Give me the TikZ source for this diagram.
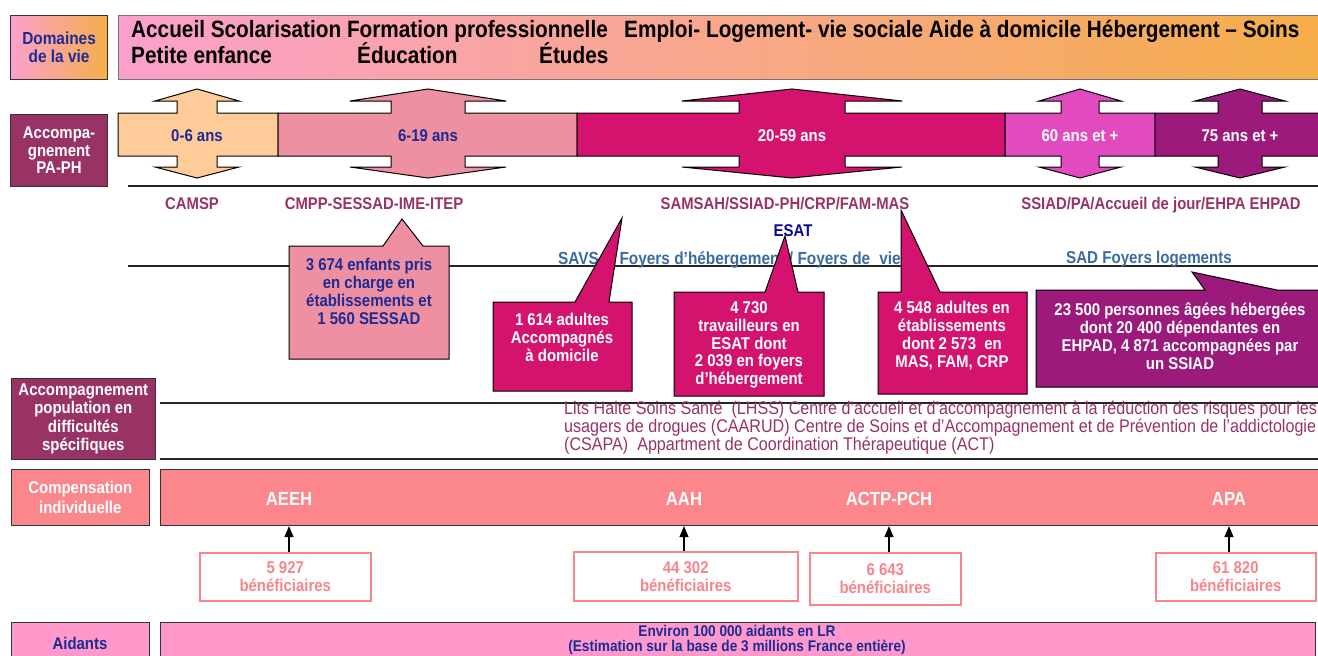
\documentclass[tikz,border=0pt]{standalone}
\usepackage{fontspec}
\newfontfamily\nar[FakeStretch=0.88]{Liberation Sans}
\usetikzlibrary{arrows.meta}
\definecolor{pinkT}{HTML}{FBA0CC}
\definecolor{orangeT}{HTML}{F5AE48}
\definecolor{plum}{HTML}{993366}
\definecolor{ageA}{HTML}{FFCC99}
\definecolor{ageB}{HTML}{EE8FA2}
\definecolor{ageC}{HTML}{D4136E}
\definecolor{ageD}{HTML}{E24BC0}
\definecolor{ageE}{HTML}{9B1A7B}
\definecolor{navy}{HTML}{1C2C94}
\definecolor{steel}{HTML}{3A6CA3}
\definecolor{salmon}{HTML}{FB868C}
\definecolor{salmonB}{HTML}{F7868C}
\definecolor{aidpink}{HTML}{FF99CC}
\definecolor{esatblue}{HTML}{0A0A96}
\newcommand\myfont[2]{\nar\bfseries\fontsize{#1}{#2}\selectfont}
\newcommand\myfontr[2]{\nar\fontsize{#1}{#2}\selectfont}
\newcommand\agebar[6]{%
 \filldraw[fill=#6,draw=black,line width=1pt,line join=miter]
 (#1,113) -- ({#3-#4},113) -- ({#3-#4},101) -- ({#3-#5},101) -- (#3,89) -- ({#3+#5},101) -- ({#3+#4},101) -- ({#3+#4},113)
 -- (#2,113) -- (#2,156) -- ({#3+#4},156) -- ({#3+#4},167) -- ({#3+#5},167) -- (#3,178) -- ({#3-#5},167) -- ({#3-#4},167)
 -- ({#3-#4},156) -- (#1,156) -- cycle;}
\begin{document}
\begin{tikzpicture}[x=1pt,y=-1pt,
  frame/.style={draw=black!80,line width=1.1pt,inner sep=0pt,anchor=north west},
  sep/.style={draw=black!85,line width=1.1pt},
  txt/.style={inner sep=0pt,align=center},
  lab/.style={inner sep=0pt,anchor=base},
  call/.style={draw=black,line width=1pt,line join=miter},
  arr/.style={-{Triangle[length=11pt,width=9pt]},line width=1.2pt},
  benef/.style={draw=salmonB,line width=1.5pt,fill=white,inner sep=0pt,anchor=north west,align=center,text=salmonB,font=\myfont{17}{18}}]
\useasboundingbox (0,0) rectangle (1318,656);
\fill[white] (0,0) rectangle (1318,656);

% ---- Domaines de la vie
\node[frame,draw=black!55,left color=pinkT,right color=orangeT,minimum width=1215pt,minimum height=64pt] (domain) at (118,15) {};
\node[frame,left color=pinkT,right color=orangeT,minimum width=97pt,minimum height=64pt] (domlab) at (10,15) {};
\node[txt,text=navy,font=\myfont{17.5}{18}] (domlabt) at (domlab.center) {Domaines\\de la vie};
\node[lab,anchor=base west,font=\myfont{23.6}{23}] (t1) at (131,37) {Accueil Scolarisation Formation professionnelle};
\node[lab,anchor=base west,font=\myfont{23.6}{23}] (t2) at (624,37) {Emploi- Logement- vie sociale Aide à domicile Hébergement – Soins};
\node[lab,anchor=base west,font=\myfont{23.6}{23}] (t3) at (131,63) {Petite enfance};
\node[lab,anchor=base west,font=\myfont{23.6}{23}] (t4) at (357,63) {Éducation};
\node[lab,anchor=base west,font=\myfont{23.6}{23}] (t5) at (539,63) {Études};

% ---- Accompagnement PA-PH
\node[frame,fill=plum,minimum width=97pt,minimum height=72pt] (paph) at (10,114) {};
\node[txt,text=white,font=\myfont{17}{17.5}] (papht) at (paph.center) {Accompa-\\gnement\\PA-PH};
\agebar{118}{278}{197}{20}{42}{ageA}
\agebar{278}{577}{428}{37}{78}{ageB}
\agebar{577}{1005}{792}{53}{110}{ageC}
\agebar{1005}{1155}{1080}{19}{41}{ageD}
\agebar{1155}{1325}{1240}{22}{45}{ageE}
\node[lab,text=navy,font=\myfont{17}{17}] (a1) at (197,141) {0-6 ans};
\node[lab,text=navy,font=\myfont{17}{17}] (a2) at (428,141) {6-19 ans};
\node[lab,text=white,font=\myfont{17}{17}] (a3) at (792,141) {20-59 ans};
\node[lab,text=white,font=\myfont{17}{17}] (a4) at (1080,141) {60 ans et +};
\node[lab,text=white,font=\myfont{17}{17}] (a5) at (1240,141) {75 ans et +};

\draw[sep] (128,186) -- (1325,186);
\draw[sep] (128,266) -- (1325,266);
\node[lab,text=plum,font=\myfont{16.9}{17}] (camsp) at (192,209) {CAMSP};
\node[lab,text=plum,font=\myfont{16.9}{17}] (cmpp) at (374,209) {CMPP-SESSAD-IME-ITEP};
\node[lab,text=plum,font=\myfont{16.9}{17}] (samsah) at (785,209) {SAMSAH/SSIAD-PH/CRP/FAM-MAS};
\node[lab,text=plum,font=\myfont{16.9}{17}] (ssiad) at (1161,209) {SSIAD/PA/Accueil de jour/EHPA EHPAD};
\node[lab,text=esatblue,font=\myfont{17}{17}] (esat) at (793,236) {ESAT};
\node[lab,anchor=base west,text=steel,font=\myfont{17.5}{17}] (savs) at (558,264) {SAVS\hspace{12pt}/ Foyers d’hébergement / Foyers de\hspace{9pt}vie};
\node[lab,text=steel,font=\myfont{17.2}{17}] (sad) at (1149,263) {SAD Foyers logements};

% ---- callouts
\filldraw[call,fill=ageB] (289,246) -- (383,246) -- (402,219) -- (423,246) -- (449,246) -- (449,359) -- (289,359) -- cycle;
\node[txt,text=navy,font=\myfont{17}{18}] (ca) at (369,291) {3 674 enfants pris\\en charge en\\établissements et\\1 560 SESSAD};
\filldraw[call,fill=ageC] (493,302) -- (575,302) -- (622,218) -- (609,302) -- (632,302) -- (632,391) -- (493,391) -- cycle;
\node[txt,text=white,font=\myfont{17}{18}] (cb) at (562,337) {1 614 adultes\\Accompagnés\\à domicile};
\filldraw[call,fill=ageC] (674,292) -- (765,292) -- (785,236) -- (798,292) -- (824,292) -- (824,396) -- (674,396) -- cycle;
\node[txt,text=white,font=\myfont{17}{17.8}] (cc) at (749,345) {4 730\\travailleurs en\\ESAT dont\\2 039 en foyers\\d’hébergement};
\filldraw[call,fill=ageC] (878,292) -- (901,292) -- (901,210) -- (940,292) -- (1027,292) -- (1027,394) -- (878,394) -- cycle;
\node[txt,text=white,font=\myfont{17}{18}] (cd) at (952,336) {4 548 adultes en\\établissements\\dont 2 573\ \ en\\MAS, FAM, CRP};
\filldraw[call,fill=ageE] (1036,290) -- (1205,290) -- (1192,272) -- (1277,290) -- (1325,290) -- (1325,387) -- (1036,387) -- cycle;
\node[txt,text=white,font=\myfont{17}{18}] (ce) at (1180,336) {23 500 personnes âgées hébergées\\dont 20 400 dépendantes en\\EHPAD, 4 871 accompagnées par\\un SSIAD};

% ---- difficultes specifiques
\node[frame,fill=plum,minimum width=144.5pt,minimum height=81pt] (diff) at (10.5,378) {};
\node[txt,text=white,font=\myfont{17}{18.3}] (difft) at (diff.center) {Accompagnement\\population en\\difficultés\\spécifiques};
\draw[sep] (160,403) -- (1325,403);
\draw[sep] (160,459) -- (1325,459);
\node[inner sep=0pt,anchor=west,align=left,text=plum,font=\myfontr{18.3}{18}] (lits) at (564,428) {Lits Halte Soins Santé\ \ (LHSS) Centre d’accueil et d’accompagnement à la réduction des risques pour les\\usagers de drogues (CAARUD) Centre de Soins et d’Accompagnement et de Prévention de l’addictologie\\(CSAPA)\ \ Appartment de Coordination Thérapeutique (ACT)};

% ---- compensation
\node[frame,fill=salmon,minimum width=138.5pt,minimum height=56pt] (complab) at (10.5,469) {};
\node[txt,text=white,font=\myfont{17}{20}] (complabt) at (complab.center) {Compensation\\individuelle};
\node[frame,fill=salmon,minimum width=1165pt,minimum height=56pt] (comp) at (160,469) {};
\node[lab,text=white,font=\myfont{19}{19}] (aeeh) at (289,505) {AEEH};
\node[lab,text=white,font=\myfont{19}{19}] (aah) at (684,505) {AAH};
\node[lab,text=white,font=\myfont{19}{19}] (actp) at (889,505) {ACTP-PCH};
\node[lab,text=white,font=\myfont{19}{19}] (apa) at (1229,505) {APA};
\node[benef,minimum width=171pt,minimum height=48pt] (b1) at (199,552) {5 927\\bénéficiaires};
\node[benef,minimum width=224pt,minimum height=49pt] (b2) at (573,551) {44 302\\bénéficiaires};
\node[benef,minimum width=151pt,minimum height=52pt] (b3) at (809,552) {6 643\\bénéficiaires};
\node[benef,minimum width=160pt,minimum height=48pt] (b4) at (1155,552) {61 820\\bénéficiaires};
\draw[arr] (b1.north -| aeeh) -- (aeeh |- comp.south);
\draw[arr] (b2.north -| aah) -- (aah |- comp.south);
\draw[arr] (b3.north -| actp) -- (actp |- comp.south);
\draw[arr] (b4.north -| apa) -- (apa |- comp.south);

% ---- aidants
\node[frame,fill=aidpink,minimum width=138.5pt,minimum height=45pt] (aidlab) at (10.5,622) {};
\node[lab,text=navy,font=\myfont{17}{17}] (aidlabt) at (80,649) {Aidants};
\node[frame,fill=aidpink,minimum width=1155pt,minimum height=45pt] (aid) at (160,622) {};
\node[txt,text=navy,font=\myfont{15.5}{15.5}] (aidt) at (737,640) {Environ 100 000 aidants en LR\\(Estimation sur la base de 3 millions France entière)};
\end{tikzpicture}
\end{document}
